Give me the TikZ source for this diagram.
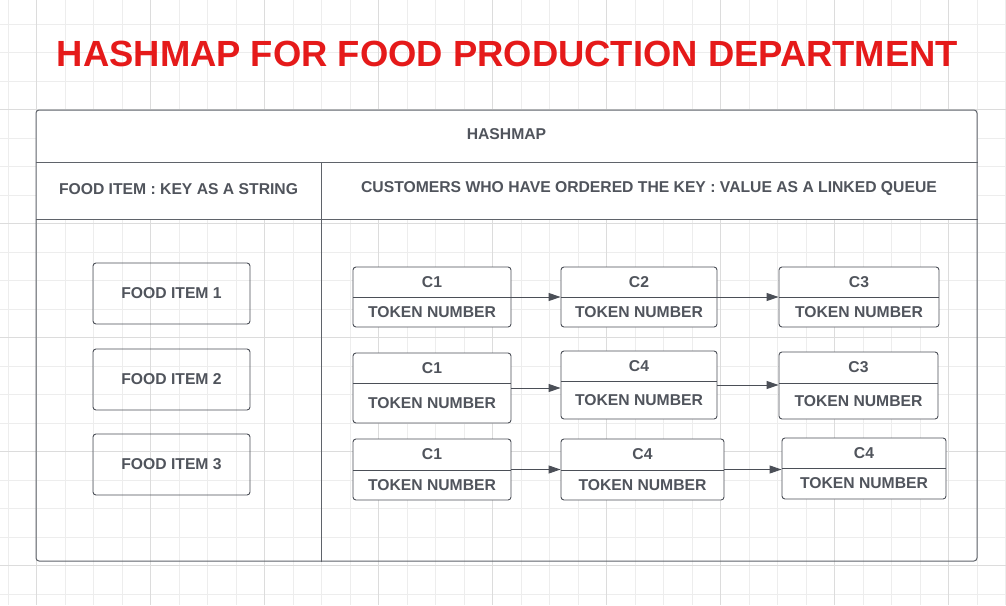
\documentclass[tikz,border=0pt]{standalone}
\usepackage{fontspec}
\setmainfont{Liberation Sans}
\usetikzlibrary{arrows.meta}
\definecolor{gridminor}{HTML}{EDEDED}
\definecolor{gridmajor}{HTML}{DCDCDC}
\definecolor{linec}{HTML}{4B4F57}
\definecolor{framec}{HTML}{5F636A}
\definecolor{textc}{HTML}{50545C}
\definecolor{titlec}{HTML}{E51A1A}
\newcommand\custbox[7]{%
  \node[cbox, minimum width={(#4-#2)*1pt}, minimum height={(#5-#3)*1pt}] (#1) at ({(#2+#4)/2},{(#3+#5)/2}) {};
  \draw[linec, line width=0.9pt] (#2,#6) -- (#4,#6);
  \node[lbl] (#1-k) at ({(#2+#4)/2},{(#3+#6)/2}) {#7};
  \node[lbl] (#1-t) at ({(#2+#4)/2},{(#6+#5)/2}) {TOKEN NUMBER};
}
\begin{document}
\begin{tikzpicture}[x=1pt,y=-1pt,
  lbl/.style={text=textc, font=\bfseries\fontsize{15.7}{19}\selectfont, inner sep=0pt},
  cbox/.style={draw=linec, line width=0.9pt, fill=white, rounded corners=3pt, inner sep=0pt},
  fbox/.style={draw=linec, line width=0.9pt, rounded corners=3pt, inner sep=0pt, minimum width=157pt, minimum height=61pt, text=textc, font=\bfseries\fontsize{15.7}{19}\selectfont},
  arr/.style={draw=linec, line width=0.9pt, -{Triangle[length=12pt,width=8pt]}},
]
\useasboundingbox (0,0) rectangle (1006,605);
\fill[white] (0,0) rectangle (1006,605);
% grid
\foreach \k in {-1,...,34} { \pgfmathsetmacro\xx{36.5+28.5*\k} \draw[gridminor, line width=0.8pt] (\xx,0) -- (\xx,605); }
\foreach \k in {-3,...,17} { \pgfmathsetmacro\yy{109.5+28.5*\k} \draw[gridminor, line width=0.8pt] (0,\yy) -- (1006,\yy); }
\foreach \k in {0,...,8} { \pgfmathsetmacro\xx{36.5+114*\k} \draw[gridmajor, line width=0.8pt] (\xx,0) -- (\xx,605); }
\foreach \k in {0,...,4} { \pgfmathsetmacro\yy{109.5+114*\k} \draw[gridmajor, line width=0.8pt] (0,\yy) -- (1006,\yy); }
% title
\node[text=titlec, font=\bfseries\fontsize{36.4}{43}\selectfont, inner sep=0pt] (title) at (507.5,54) {HASHMAP FOR FOOD PRODUCTION DEPARTMENT};
% table
\fill[white] (36,219) [rounded corners=3pt] -- (36,110) -- (977,110) [sharp corners] -- (977,219) -- cycle;
\node[draw=framec, line width=1pt, rounded corners=3pt, minimum width=941pt, minimum height=451pt, inner sep=0pt] (outer) at (506.5,335.5) {};
\coordinate (h1) at (0,162);
\coordinate (h2) at (0,219);
\coordinate (vd) at (321,162);
\draw[framec, line width=1pt] (outer.west |- h1) -- (outer.east |- h1);
\draw[framec, line width=1pt] (outer.west |- h2) -- (outer.east |- h2);
\draw[framec, line width=1pt] (vd) -- (vd |- outer.south);
\node[lbl] (hm) at (506.5,134) {HASHMAP};
\node[lbl] (hk) at (178.5,189) {FOOD ITEM : KEY AS A STRING};
\node[lbl] (hv) at (649,189) {CUSTOMERS WHO HAVE ORDERED THE KEY : VALUE AS A LINKED QUEUE};
% food items
\node[fbox] (f1) at (171.5,293.5) {FOOD ITEM 1};
\node[fbox] (f2) at (171.5,379.5) {FOOD ITEM 2};
\node[fbox] (f3) at (171.5,464.5) {FOOD ITEM 3};
% customers
\custbox{r1a}{353}{267}{511}{327}{297}{C1}
\custbox{r1b}{561}{267}{717}{327}{297}{C2}
\custbox{r1c}{779}{267}{939}{327}{297}{C3}
\custbox{r2a}{353}{353}{511}{423}{383}{C1}
\custbox{r2b}{561}{351}{717}{419}{381}{C4}
\custbox{r2c}{779}{352}{938}{419}{383}{C3}
\custbox{r3a}{353}{439}{511}{500}{470}{C1}
\custbox{r3b}{561}{439}{724}{500}{470}{C4}
\custbox{r3c}{782}{438}{946}{499}{468}{C4}
% arrows
\draw[arr] (r1a.east) -- (r1a.east -| r1b.west);
\draw[arr] (r1b.east) -- (r1b.east -| r1c.west);
\draw[arr] (r2a.east) -- (r2a.east -| r2b.west);
\draw[arr] (r2b.east) -- (r2b.east -| r2c.west);
\draw[arr] (r3a.east) -- (r3a.east -| r3b.west);
\draw[arr] (r3b.east) -- (r3b.east -| r3c.west);
\end{tikzpicture}
\end{document}
